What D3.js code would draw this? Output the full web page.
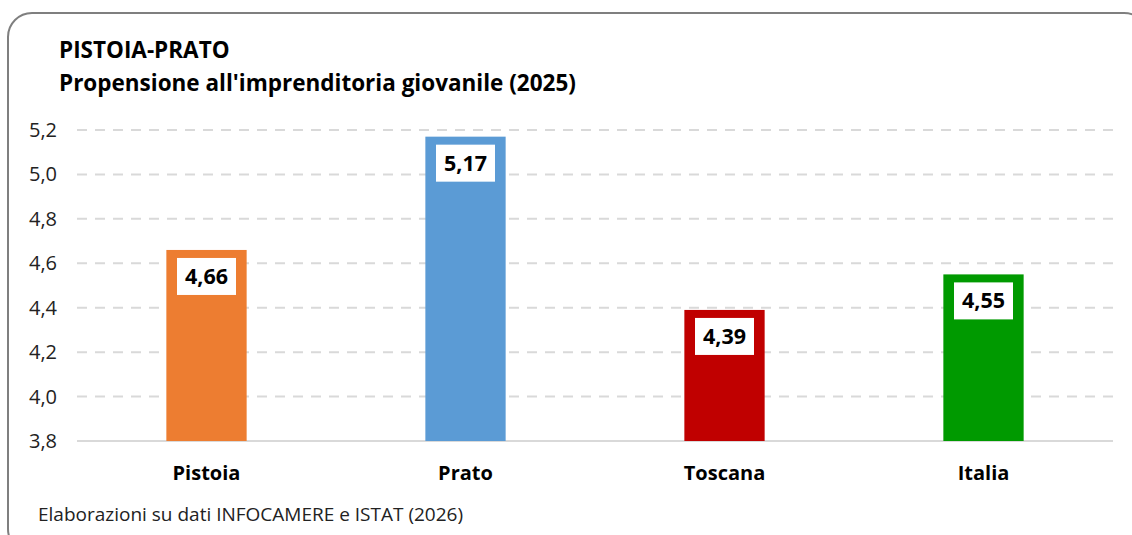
<!DOCTYPE html>
<html>
<head>
<meta charset="utf-8">
<script src="https://cdn.jsdelivr.net/npm/d3@7"></script>
<style>
	body { margin: 0; background: #fff; }
	svg { display: block; font-family: "Open Sans", sans-serif; }
	.title { font-weight: bold; font-size: 22.5px; fill: #000; }
	.tick-label { font-size: 20px; fill: #222; }
	.cat-label { font-weight: bold; font-size: 20px; fill: #000; }
	.value-label { font-weight: bold; font-size: 21.5px; fill: #000; }
	.note { font-size: 19px; fill: #222; }
</style>
</head>
<body>
<div id="chart"></div>
<script>
	const categories = ["Pistoia", "Prato", "Toscana", "Italia"];
	const values = [4.66, 5.17, 4.39, 4.55];
	const colors = ["#ED7D31", "#5B9BD5", "#C00000", "#009A00"];
	const yTicks = [3.8, 4.0, 4.2, 4.4, 4.6, 4.8, 5.0, 5.2];

	const width = 1132;
	const height = 535;

	const fmt = (v, n) => v.toFixed(n).replace(".", ",");

	const svg = d3.select("#chart")
		.append("svg")
			.attr("width", width)
			.attr("height", height);

	// frame
	svg.append("rect")
		.attr("x", 8)
		.attr("y", 13)
		.attr("width", 1140)
		.attr("height", 540)
		.attr("rx", 24)
		.attr("fill", "#fff")
		.attr("stroke", "#7f7f7f")
		.attr("stroke-width", 2);

	// header
	svg.append("text")
		.attr("class", "title")
		.attr("x", 59)
		.attr("y", 58)
		.text("PISTOIA-PRATO");

	svg.append("text")
		.attr("class", "title")
		.attr("x", 59)
		.attr("y", 91)
		.text("Propensione all'imprenditoria giovanile (2025)");

	const x = d3.scaleBand()
		.domain(categories)
		.range([77, 1113])
		.paddingInner(0.69)
		.paddingOuter(0.345);

	const y = d3.scaleLinear()
		.domain([3.8, 5.2])
		.range([441, 130]);

	// grid
	const grid = svg.append("g").attr("class", "grid");
	grid.selectAll("line")
		.data(yTicks)
		.enter()
		.append("line")
			.attr("x1", 77)
			.attr("x2", 1113)
			.attr("y1", (d) => y(d))
			.attr("y2", (d) => y(d))
			.attr("stroke", "#d9d9d9")
			.attr("stroke-width", 2)
			.attr("stroke-dasharray", (d) => d === 3.8 ? null : "10,8");

	// y labels
	svg.append("g")
		.selectAll("text")
		.data(yTicks)
		.enter()
		.append("text")
			.attr("class", "tick-label")
			.attr("x", 57)
			.attr("y", (d) => y(d) + 7)
			.attr("text-anchor", "end")
			.text((d) => fmt(d, 1));

	// bars
	const bars = svg.append("g")
		.selectAll(".bar")
		.data(values)
		.enter()
		.append("g")
			.attr("class", "bar");

	bars.append("rect")
		.attr("x", (d, i) => x(categories[i]))
		.attr("y", (d) => y(d))
		.attr("width", x.bandwidth())
		.attr("height", (d) => y(3.8) - y(d))
		.attr("fill", (d, i) => colors[i]);

	bars.append("rect")
		.attr("x", (d, i) => x(categories[i]) + x.bandwidth() / 2 - 29.5)
		.attr("y", (d) => y(d) + 8)
		.attr("width", 59)
		.attr("height", 37)
		.attr("fill", "#fff");

	bars.append("text")
		.attr("class", "value-label")
		.attr("x", (d, i) => x(categories[i]) + x.bandwidth() / 2)
		.attr("y", (d) => y(d) + 34)
		.attr("text-anchor", "middle")
		.text((d) => fmt(d, 2));

	// categories
	svg.append("g")
		.selectAll("text")
		.data(categories)
		.enter()
		.append("text")
			.attr("class", "cat-label")
			.attr("x", (d) => x(d) + x.bandwidth() / 2)
			.attr("y", 480)
			.attr("text-anchor", "middle")
			.text((d) => d);

	svg.append("text")
		.attr("class", "note")
		.attr("x", 38)
		.attr("y", 521)
		.text("Elaborazioni su dati INFOCAMERE e ISTAT (2026)");
</script>
</body>
</html>
